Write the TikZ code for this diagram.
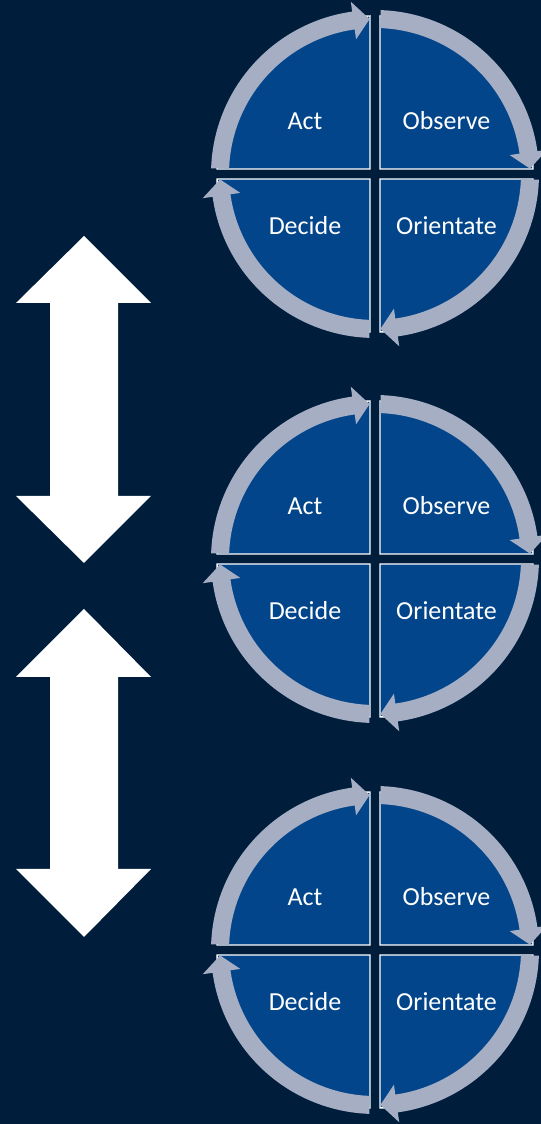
\documentclass[tikz,border=0pt]{standalone}
\usepackage{fontspec}
\setmainfont{Carlito}
\definecolor{bg}{HTML}{001E3C}
\definecolor{quad}{HTML}{03458A}
\definecolor{ringc}{HTML}{A6AEC4}
\newcommand\oodacycle[2]{%
 \begin{scope}[shift={(375,#2)}]
  \begin{scope}[shift={(-5,5)}]
   \draw[quadrant] (0,0) -- plot[domain=90:180,samples=60] (\x:153) -- cycle;
  \end{scope}
  \begin{scope}[shift={(5,5)}]
   \draw[quadrant] (0,0) -- plot[domain=0:90,samples=60] (\x:153) -- cycle;
  \end{scope}
  \begin{scope}[shift={(5,-5)}]
   \draw[quadrant] (0,0) -- plot[domain=-90:0,samples=60] (\x:153) -- cycle;
  \end{scope}
  \begin{scope}[shift={(-5,-5)}]
   \draw[quadrant] (0,0) -- plot[domain=180:270,samples=60] (\x:153) -- cycle;
  \end{scope}
  \foreach \k in {0,1,2,3}{%
   \pgfmathsetmacro\sa{178-90*\k}%
   \pgfmathsetmacro\ta{92-90*\k}%
   \pgfmathsetmacro\ba{98-90*\k}%
   \fill[ringseg] plot[domain=\sa:\ba,samples=50] (\x:164) -- (\ba:174) -- (\ta:155) -- (\ba:136) -- plot[domain=\ba:\sa,samples=50] (\x:146) -- cycle;
  }
  \node[qtext] (#1act) at (-70,53) {Act};
  \node[qtext] (#1obs) at (71.5,53) {Observe};
  \node[qtext] (#1dec) at (-70,-52) {Decide};
  \node[qtext] (#1ori) at (71.5,-52) {Orientate};
 \end{scope}}
\begin{document}
\begin{tikzpicture}[x=0.75pt,y=0.75pt,
 quadrant/.style={fill=quad,draw=white,line width=1.1pt,line join=miter},
 ringseg/.style={fill=ringc},
 qtext/.style={text=white,font=\fontsize{19.5}{22}\selectfont,inner sep=0pt},
 bigarrow/.style={fill=white}]
\fill[bg] (0,0) rectangle (541,1124);
\useasboundingbox (0,0) rectangle (541,1124);
\oodacycle{a}{950}
\oodacycle{b}{565}
\oodacycle{c}{174}
\fill[bigarrow] (84,888) -- (151,821) -- (118,821) -- (118,628) -- (151,628) -- (84,561) -- (16,628) -- (50,628) -- (50,821) -- (16,821) -- cycle;
\fill[bigarrow] (84,515) -- (151,447) -- (118,447) -- (118,255) -- (151,255) -- (84,187) -- (16,255) -- (50,255) -- (50,447) -- (16,447) -- cycle;
\end{tikzpicture}
\end{document}
